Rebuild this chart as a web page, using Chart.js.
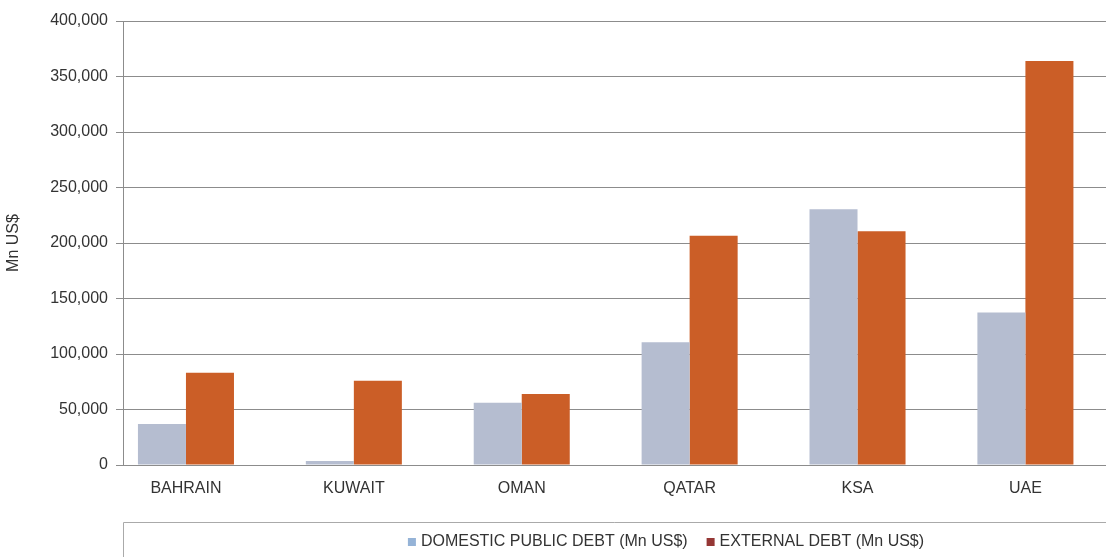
<!DOCTYPE html>
<html>
<head>
<meta charset="utf-8">
<script src="https://cdn.jsdelivr.net/npm/chart.js@4/dist/chart.umd.min.js"></script>
<style>
	html, body { margin: 0; padding: 0; background: #fff; overflow: hidden; }
	#wrap { width: 1106px; height: 557px; }
</style>
</head>
<body>
<div id="wrap"><canvas id="debt_chart" width="1106" height="557"></canvas></div>
<script>
var categories = ["BAHRAIN", "KUWAIT", "OMAN", "QATAR", "KSA", "UAE"];
var domesticDebt = [37000, 3500, 56000, 110500, 230500, 137500];
var externalDebt = [83000, 76000, 64000, 206500, 210500, 364000];
var yTicks = [0, 50000, 100000, 150000, 200000, 250000, 300000, 350000, 400000];

var seriesLabels = ["DOMESTIC PUBLIC DEBT (Mn US$)", "EXTERNAL DEBT (Mn US$)"];
var barColors = ["#b5bdd0", "#cb5e27"];
var legendColors = ["#95b3d7", "#953735"];

var FONT = "'Liberation Sans', Arial, sans-serif";
var TEXT = "#333333";
var GRID = "#8c8c8c";

function toPoints(values) {
	return values.map(function (v, i) { return { x: i, y: v }; });
}

// legend drawn inside the open box under the plot
var legendBox = {
	id: "legendBox",
	afterDraw: function (chart) {
		var ctx = chart.ctx;
		var area = chart.chartArea;
		var top = 522.5;
		ctx.save();
		ctx.strokeStyle = "#aaaaaa";
		ctx.lineWidth = 1;
		ctx.beginPath();
		ctx.moveTo(area.left + 0.5, chart.height);
		ctx.lineTo(area.left + 0.5, top);
		ctx.lineTo(chart.width, top);
		ctx.stroke();

		ctx.font = "16px " + FONT;
		ctx.textBaseline = "middle";
		var box = 8, gap = 5, spacing = 19;
		var total = 0;
		chart.data.datasets.forEach(function (ds, i) {
			total += box + gap + ctx.measureText(ds.label).width;
			if (i > 0) total += spacing;
		});
		var x = 666 - total / 2;
		var y = 542;
		chart.data.datasets.forEach(function (ds, i) {
			ctx.fillStyle = legendColors[i];
			ctx.fillRect(x, y - box / 2, box, box);
			x += box + gap;
			ctx.fillStyle = TEXT;
			ctx.fillText(ds.label, x, y);
			x += ctx.measureText(ds.label).width + spacing;
		});
		ctx.restore();
	}
};

var ctx = document.getElementById("debt_chart").getContext("2d");
new Chart(ctx, {
	type: "bar",
	data: {
		datasets: [
			{
				label: seriesLabels[0],
				data: toPoints(domesticDebt),
				backgroundColor: barColors[0],
				borderWidth: 0
			},
			{
				label: seriesLabels[1],
				data: toPoints(externalDebt),
				backgroundColor: barColors[1],
				borderWidth: 0
			}
		]
	},
	options: {
		responsive: false,
		animation: false,
		layout: { padding: { top: 21, right: 0, bottom: 0, left: 0 } },
		datasets: {
			bar: { categoryPercentage: 0.572, barPercentage: 1.0 }
		},
		plugins: {
			legend: { display: false },
			tooltip: { enabled: false }
		},
		scales: {
			x: {
				type: "linear",
				offset: false,
				min: -0.375,
				max: 5.48,
				afterBuildTicks: function (scale) {
					scale.ticks = categories.map(function (c, i) { return { value: i }; });
				},
				afterFit: function (scale) { scale.height = 92; },
				grid: { display: false, offset: false },
				border: { display: false },
				ticks: {
					padding: 6,
					maxRotation: 0,
					autoSkip: false,
					color: TEXT,
					font: { family: FONT, size: 16 },
					callback: function (v) { return categories[v]; }
				}
			},
			y: {
				min: 0,
				max: 400000,
				afterBuildTicks: function (scale) {
					scale.ticks = yTicks.map(function (v) { return { value: v }; });
				},
				afterFit: function (scale) { scale.width = 123; },
				grid: { color: GRID, lineWidth: 1, tickLength: 7 },
				border: { display: true, color: GRID },
				title: {
					display: true,
					text: "Mn US$",
					color: TEXT,
					font: { family: FONT, size: 16 },
					padding: { top: 4, bottom: 0 }
				},
				ticks: {
					padding: 8,
					color: TEXT,
					font: { family: FONT, size: 16 },
					callback: function (v) { return v.toLocaleString("en-US"); }
				}
			}
		}
	},
	plugins: [legendBox]
});
</script>
</body>
</html>
